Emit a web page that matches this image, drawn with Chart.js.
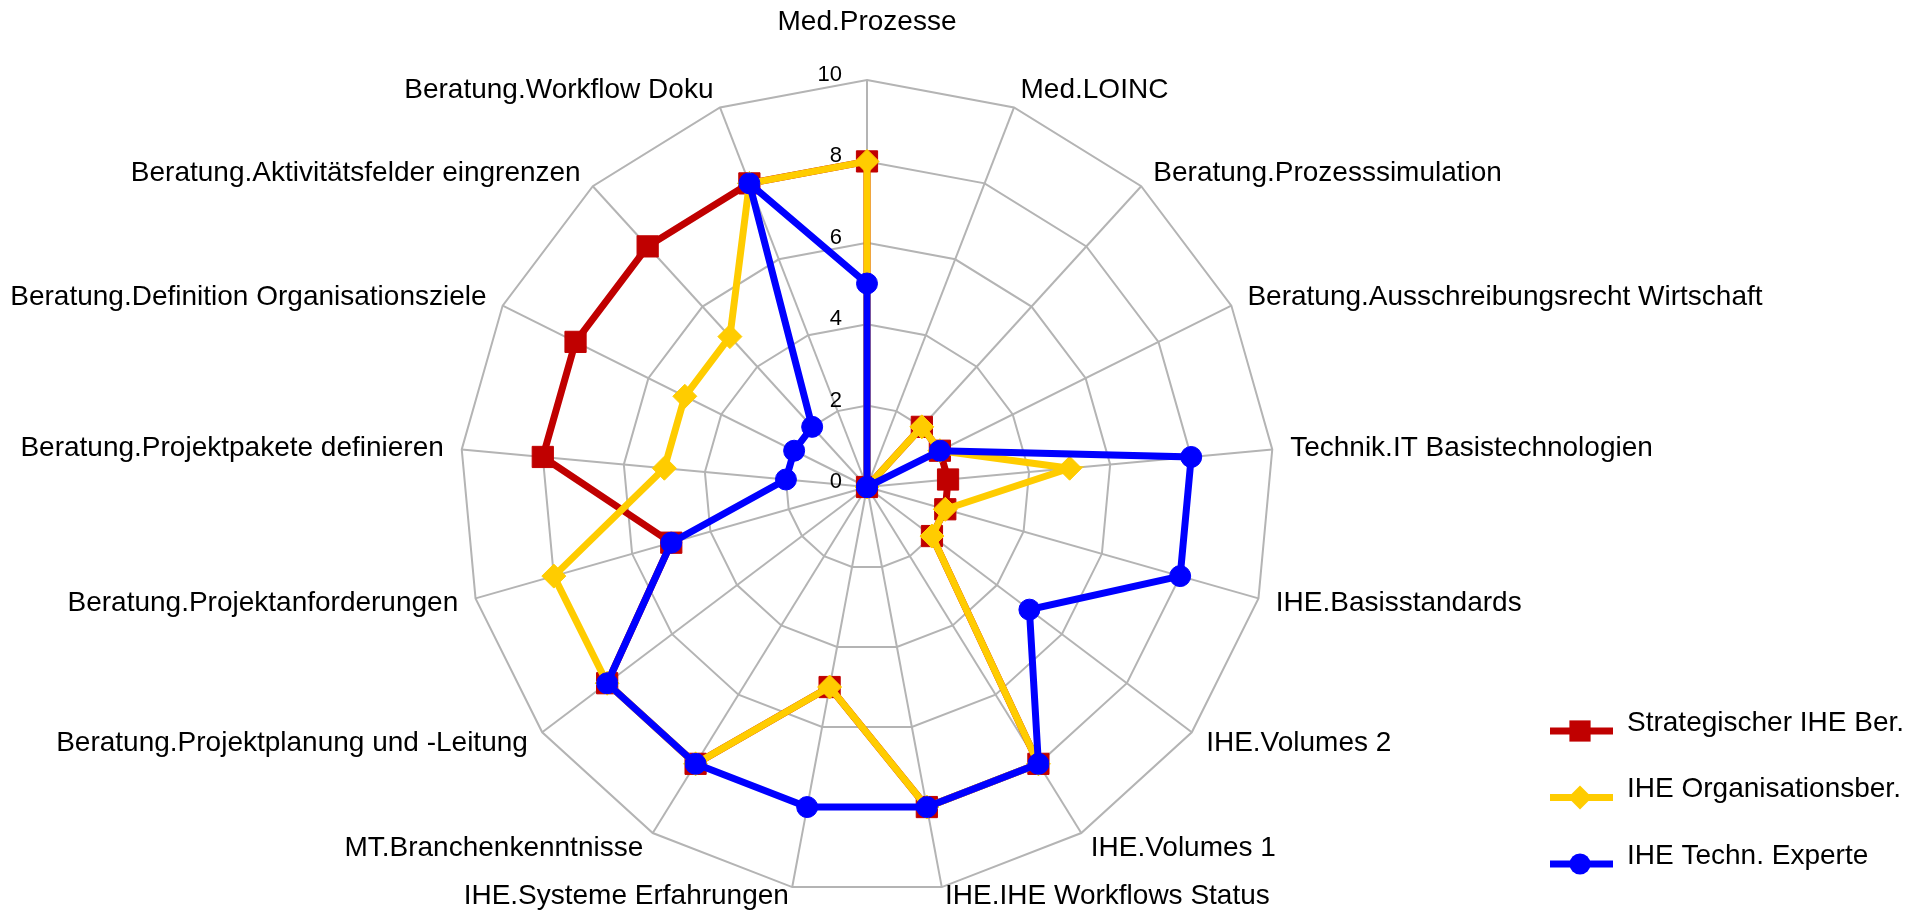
<!DOCTYPE html>
<html>
<head>
<meta charset="utf-8">
<script src="https://cdn.jsdelivr.net/npm/chart.js@4"></script>
<style>
  html, body { margin: 0; padding: 0; background: #fff; }
  #wrap { width: 1907px; height: 912px; position: relative; }
</style>
</head>
<body>
<div id="wrap"><canvas id="radar"></canvas></div>
<script>
// Achsen (im Uhrzeigersinn ab oben)
const kategorien = [
  "Med.Prozesse",
  "Med.LOINC",
  "Beratung.Prozesssimulation",
  "Beratung.Ausschreibungsrecht Wirtschaft",
  "Technik.IT Basistechnologien",
  "IHE.Basisstandards",
  "IHE.Volumes 2",
  "IHE.Volumes 1",
  "IHE.IHE Workflows Status",
  "IHE.Systeme Erfahrungen",
  "MT.Branchenkenntnisse",
  "Beratung.Projektplanung und -Leitung",
  "Beratung.Projektanforderungen",
  "Beratung.Projektpakete definieren",
  "Beratung.Definition Organisationsziele",
  "Beratung.Aktivitätsfelder eingrenzen",
  "Beratung.Workflow Doku"
];

const strategisch  = [8, 0, 2, 2, 2, 2, 2, 8, 8, 5, 8, 8, 5, 8, 8, 8, 8];
const organisation = [8, 0, 2, 2, 5, 2, 2, 8, 8, 5, 8, 8, 8, 5, 5, 5, 8];
const techniker    = [5, 0, 0, 2, 8, 8, 5, 8, 8, 8, 8, 8, 5, 2, 2, 2, 8];

const serienNamen = ["Strategischer IHE Ber.", "IHE Organisationsber.", "IHE Techn. Experte"];
const skalaTicks = [0, 2, 4, 6, 8, 10];

const FONT = "'Liberation Sans', Arial, sans-serif";

function marker(ctx, stil, r, x, y, farbe) {
  ctx.fillStyle = farbe;
  ctx.beginPath();
  if (stil === "rect") {
    const s = r * Math.SQRT1_2;
    ctx.rect(x - s, y - s, 2 * s, 2 * s);
  } else if (stil === "rectRot") {
    ctx.moveTo(x, y - r); ctx.lineTo(x + r, y); ctx.lineTo(x, y + r); ctx.lineTo(x - r, y);
    ctx.closePath();
  } else {
    ctx.arc(x, y, r, 0, Math.PI * 2);
  }
  ctx.fill();
}

// Skalenbeschriftung links der senkrechten Achse
const skalaText = {
  id: "skalaText",
  beforeDatasetsDraw(chart) {
    const s = chart.scales.r;
    const ctx = chart.ctx;
    ctx.save();
    ctx.fillStyle = "#000";
    ctx.font = "22px " + FONT;
    ctx.textAlign = "right";
    ctx.textBaseline = "middle";
    skalaTicks.forEach(v => {
      const d = s.getDistanceFromCenterForValue(v);
      ctx.fillText(String(v), s.xCenter - 25, s.yCenter - d - 5);
    });
    ctx.restore();
  }
};

// Achsenbeschriftung + Legende
const beschriftung = {
  id: "beschriftung",
  afterDraw(chart) {
    const s = chart.scales.r;
    const ctx = chart.ctx;
    ctx.save();
    ctx.fillStyle = "#000";
    ctx.font = "28px " + FONT;
    ctx.textBaseline = "middle";
    kategorien.forEach((txt, i) => {
      const sin = Math.sin(s.getIndexAngle(i));
      const pad = Math.abs(sin) < 0.01 ? 58 : 18;
      const p = s.getPointPosition(i, s.drawingArea + pad);
      ctx.textAlign = sin > 0.01 ? "left" : (sin < -0.01 ? "right" : "center");
      // unten nicht aus dem Bild laufen lassen
      ctx.fillText(txt, p.x, Math.min(p.y, chart.height - 16));
    });

    // Legende unten rechts
    const lx = 1550, ly = 731, abstand = 66.5;
    chart.data.datasets.forEach((ds, k) => {
      const y = ly + k * abstand;
      ctx.strokeStyle = ds.borderColor;
      ctx.lineWidth = ds.borderWidth;
      ctx.beginPath();
      ctx.moveTo(lx, y);
      ctx.lineTo(lx + 63, y);
      ctx.stroke();
      marker(ctx, ds.pointStyle, ds.pointRadius, lx + 30, y, ds.pointBackgroundColor);
      ctx.fillStyle = "#000";
      ctx.textAlign = "left";
      ctx.fillText(ds.label, lx + 77, y - 8);
    });
    ctx.restore();
  }
};

new Chart(document.getElementById("radar"), {
  type: "radar",
  data: {
    labels: kategorien,
    datasets: [
      {
        label: serienNamen[0],
        data: strategisch,
        borderColor: "#C00000",
        pointBackgroundColor: "#C00000",
        pointBorderColor: "#C00000",
        pointStyle: "rect",
        pointRadius: 15,
        order: 3
      },
      {
        label: serienNamen[1],
        data: organisation,
        borderColor: "#FFCC00",
        pointBackgroundColor: "#FFCC00",
        pointBorderColor: "#FFCC00",
        pointStyle: "rectRot",
        pointRadius: 12,
        order: 2
      },
      {
        label: serienNamen[2],
        data: techniker,
        borderColor: "#0000FF",
        pointBackgroundColor: "#0000FF",
        pointBorderColor: "#0000FF",
        pointStyle: "circle",
        pointRadius: 10.5,
        order: 1
      }
    ].map(ds => Object.assign({
      borderWidth: 7,
      pointBorderWidth: 1,
      pointHoverRadius: ds.pointRadius,
      fill: false,
      tension: 0
    }, ds))
  },
  options: {
    responsive: true,
    maintainAspectRatio: false,
    animation: false,
    layout: { padding: { top: 80, bottom: 18, left: 460, right: 633 } },
    plugins: {
      legend: { display: false },
      tooltip: { enabled: false }
    },
    scales: {
      r: {
        min: 0,
        max: 10,
        ticks: { stepSize: 2, display: false },
        grid: { color: "#b4b4b4", lineWidth: 2, circular: false },
        angleLines: { color: "#b4b4b4", lineWidth: 2 },
        pointLabels: { display: false }
      }
    }
  },
  plugins: [skalaText, beschriftung]
});
</script>
</body>
</html>
